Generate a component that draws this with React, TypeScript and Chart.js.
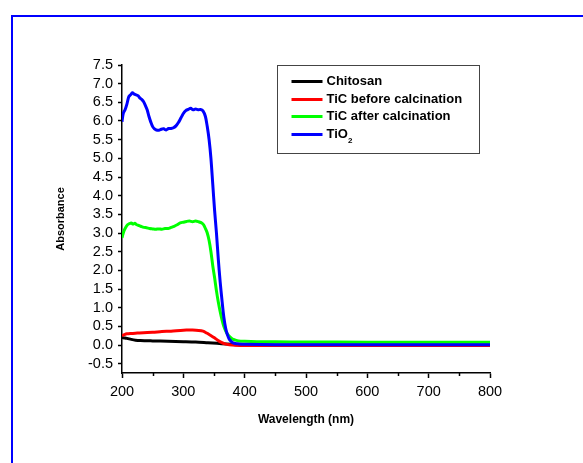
import React, { useEffect, useRef } from "react";
import { Chart, registerables } from "chart.js";

Chart.register(...registerables);

// ---------- data ----------
const seriesNames = ["Chitosan", "TiC before calcination", "TiC after calcination", "TiO2"];
const seriesColors = ["#000000", "#FF0000", "#00FF00", "#0000FF"];

const chitosanWl = [200, 205, 210, 215, 222, 230, 250, 275, 300, 320, 340, 355, 370, 385, 400, 500, 600, 700, 800];
const chitosanAbs = [0.2, 0.19, 0.17, 0.15, 0.13, 0.12, 0.11, 0.1, 0.09, 0.08, 0.06, 0.045, 0.025, 0.01, 0.005, 0.0, 0.0, 0.0, 0.0];

const ticBeforeWl = [200, 204, 208, 215, 225, 235, 250, 265, 280, 295, 305, 315, 325, 332, 338, 344, 350, 356, 362, 368, 375, 385, 400, 500, 600, 700, 800];
const ticBeforeAbs = [0.25, 0.28, 0.3, 0.31, 0.32, 0.33, 0.34, 0.36, 0.37, 0.39, 0.4, 0.4, 0.39, 0.37, 0.32, 0.26, 0.2, 0.13, 0.07, 0.03, 0.005, -0.01, -0.015, -0.015, -0.015, -0.015, -0.015];

const ticAfterWl = [200, 203, 206, 209, 212, 215, 218, 221, 224, 228, 232, 236, 240, 245, 250, 255, 260, 265, 270, 275, 280, 285, 290, 295, 300, 305, 310, 315, 320, 325, 330, 333, 336, 339, 342, 345, 348, 351, 354, 357, 360, 363, 366, 369, 372, 375, 380, 385, 390, 400, 420, 450, 500, 600, 700, 800];
const ticAfterAbs = [2.87, 3.05, 3.15, 3.22, 3.25, 3.27, 3.24, 3.26, 3.22, 3.2, 3.17, 3.15, 3.14, 3.12, 3.11, 3.1, 3.11, 3.1, 3.12, 3.12, 3.15, 3.18, 3.22, 3.27, 3.29, 3.31, 3.32, 3.3, 3.32, 3.3, 3.27, 3.22, 3.12, 3.0, 2.8, 2.5, 2.12, 1.8, 1.45, 1.15, 0.9, 0.68, 0.5, 0.38, 0.29, 0.23, 0.16, 0.13, 0.11, 0.1, 0.09, 0.085, 0.08, 0.075, 0.075, 0.075];

const tio2Wl = [200, 202, 205, 208, 211, 214, 217, 220, 223, 226, 229, 232, 235, 238, 241, 244, 247, 250, 253, 256, 260, 264, 268, 272, 276, 280, 284, 288, 292, 296, 300, 304, 308, 312, 316, 320, 324, 328, 332, 336, 339, 342, 345, 348, 351, 354, 357, 360, 363, 366, 369, 372, 375, 380, 385, 390, 400, 450, 500, 600, 700, 800];
const tio2Abs = [5.98, 6.2, 6.3, 6.45, 6.65, 6.7, 6.76, 6.72, 6.7, 6.68, 6.62, 6.58, 6.52, 6.42, 6.3, 6.12, 5.97, 5.85, 5.79, 5.76, 5.75, 5.78, 5.79, 5.76, 5.8, 5.8, 5.82, 5.87, 5.96, 6.08, 6.2, 6.28, 6.31, 6.34, 6.3, 6.32, 6.3, 6.31, 6.27, 6.12, 5.85, 5.5, 5.0, 4.3, 3.6, 3.0, 2.3, 1.7, 1.2, 0.75, 0.45, 0.27, 0.15, 0.07, 0.04, 0.03, 0.02, 0.01, 0.01, 0.01, 0.01, 0.01];

const xMin = 200;
const xMax = 800;
const xMajorStep = 100;
const xMinorTicks = [250, 350, 450, 550, 650, 750];
const yMin = -0.75;
const yMax = 7.5;
const yStep = 0.5;

const xTitle = "Wavelength (nm)";
const yTitle = "Absorbance";

const FONT = "Arial, 'Liberation Sans', sans-serif";

function toPoints(xs: number[], ys: number[]) {
  return xs.map((x, i) => ({ x, y: ys[i] }));
}

const minorTickPlugin = {
  id: "minorTicks",
  afterDraw(chart: any) {
    const { ctx, scales } = chart;
    const xs = scales.x;
    ctx.save();
    ctx.strokeStyle = "#000";
    ctx.lineWidth = 1.5;
    for (const v of xMinorTicks) {
      const px = Math.round(xs.getPixelForValue(v)) + 0.5;
      ctx.beginPath();
      ctx.moveTo(px, xs.top);
      ctx.lineTo(px, xs.top + 3);
      ctx.stroke();
    }
    ctx.restore();
  },
};

const boxLegendPlugin = {
  id: "boxLegend",
  afterDraw(chart: any) {
    const { ctx, chartArea } = chart;
    const left = chartArea.left + 155.5;
    const top = chartArea.top + 0.5;
    const w = 202;
    const h = 88;
    ctx.save();
    ctx.fillStyle = "#fff";
    ctx.fillRect(left, top, w, h);
    ctx.strokeStyle = "#444";
    ctx.lineWidth = 1;
    ctx.strokeRect(left, top, w, h);
    const rowY = [16, 34, 51, 69];
    chart.data.datasets.forEach((ds: any, i: number) => {
      const y = top + rowY[i];
      ctx.strokeStyle = ds.borderColor;
      ctx.lineWidth = 3;
      ctx.beginPath();
      ctx.moveTo(left + 14, y);
      ctx.lineTo(left + 45, y);
      ctx.stroke();
      ctx.fillStyle = "#000";
      ctx.textBaseline = "middle";
      ctx.textAlign = "left";
      ctx.font = `bold 13px ${FONT}`;
      const label: string = ds.label;
      if (label === "TiO2") {
        ctx.fillText("TiO", left + 49, y);
        const wMain = ctx.measureText("TiO").width;
        ctx.font = `bold 8px ${FONT}`;
        ctx.fillText("2", left + 49 + wMain, y + 6);
      } else {
        ctx.fillText(label, left + 49, y);
      }
    });
    ctx.restore();
  },
};

export default function App() {
  const canvasRef = useRef<HTMLCanvasElement | null>(null);

  useEffect(() => {
    const canvas = canvasRef.current;
    if (!canvas) return;
    const xsList = [chitosanWl, ticBeforeWl, ticAfterWl, tio2Wl];
    const ysList = [chitosanAbs, ticBeforeAbs, ticAfterAbs, tio2Abs];
    const chart = new Chart(canvas, {
      type: "line",
      data: {
        datasets: seriesNames.map((name, i) => ({
          label: name,
          data: toPoints(xsList[i], ysList[i]),
          borderColor: seriesColors[i],
          backgroundColor: seriesColors[i],
          borderWidth: 3,
          pointRadius: 0,
          tension: 0.3,
          fill: false,
          order: 3 - i,
        })),
      },
      options: {
        responsive: false,
        animation: false,
        events: [],
        layout: { padding: { left: 54, right: 93, top: 65, bottom: 36 } },
        plugins: {
          legend: { display: false },
          tooltip: { enabled: false },
          title: { display: false },
        },
        scales: {
          x: {
            type: "linear",
            min: xMin,
            max: xMax,
            afterFit: (s: any) => {
              s.height = 54;
            },
            grid: {
              display: true,
              drawOnChartArea: false,
              drawTicks: true,
              tickLength: 5,
              tickColor: "#000",
              tickWidth: 1.5,
            },
            border: { display: true, color: "#000", width: 1.5 },
            ticks: {
              stepSize: xMajorStep,
              color: "#000",
              padding: 5,
              maxRotation: 0,
              autoSkip: false,
              font: { family: FONT, size: 14.5 },
              includeBounds: false,
            },
            title: {
              display: true,
              text: xTitle,
              color: "#000",
              font: { family: FONT, size: 12, weight: "bold" },
              padding: { top: 0, bottom: 0 },
            },
          },
          y: {
            type: "linear",
            min: yMin,
            max: yMax,
            afterFit: (s: any) => {
              s.width = 68;
            },
            grid: {
              display: true,
              drawOnChartArea: false,
              drawTicks: true,
              tickLength: 4,
              tickColor: "#000",
              tickWidth: 1.5,
            },
            border: { display: true, color: "#000", width: 1.5 },
            ticks: {
              stepSize: yStep,
              color: "#000",
              padding: 5,
              autoSkip: false,
              font: { family: FONT, size: 14.5 },
              includeBounds: false,
              callback: (v: any) => Number(v).toFixed(1),
            },
            title: {
              display: true,
              text: yTitle,
              color: "#000",
              font: { family: FONT, size: 11, weight: "bold" },
              padding: { top: 0, bottom: 0 },
            },
          },
        },
      },
      plugins: [minorTickPlugin, boxLegendPlugin],
    } as any);
    return () => chart.destroy();
  }, []);

  return (
    <div style={{ position: "fixed", left: 0, top: 0, width: 583, height: 463, overflow: "hidden", background: "#fff" }}>
      <div
        style={{
          position: "absolute",
          left: 11,
          top: 15,
          width: 700,
          height: 600,
          border: "2px solid #0000FF",
          boxSizing: "border-box",
        }}
      />
      <canvas
        ref={canvasRef}
        width={583}
        height={463}
        style={{ position: "absolute", left: 0, top: 0, width: 583, height: 463 }}
      />
    </div>
  );
}
